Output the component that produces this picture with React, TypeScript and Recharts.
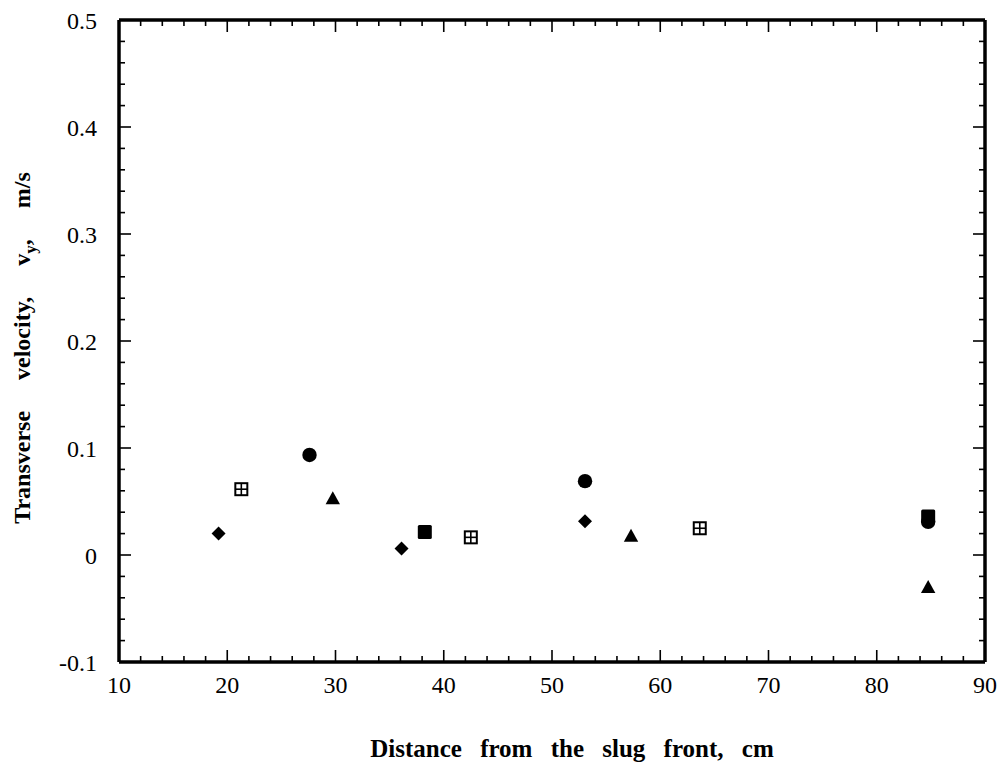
import React from 'react';
import { ScatterChart, Scatter, XAxis, YAxis } from 'recharts';

// ---- data ----
const diamondX = [19.2, 36.1, 53.05];
const diamondY = [0.02, 0.006, 0.0315];
const crossSqX = [21.3, 42.5, 63.65];
const crossSqY = [0.0615, 0.0165, 0.025];
const circleX = [27.6, 53.05, 84.75];
const circleY = [0.0935, 0.069, 0.031];
const triX = [29.75, 57.3, 84.75];
const triY = [0.053, 0.018, -0.03];
const squareX = [38.25, 84.75];
const squareY = [0.0215, 0.036];

const xLabelTicks = [10, 20, 30, 40, 50, 60, 70, 80, 90];
const xAllTicks = [10, 12, 14, 16, 18, 20, 22, 24, 26, 28, 30, 32, 34, 36, 38, 40, 42, 44, 46, 48, 50, 52, 54, 56, 58, 60, 62, 64, 66, 68, 70, 72, 74, 76, 78, 80, 82, 84, 86, 88, 90];
const yLabelTicks = [-0.1, 0, 0.1, 0.2, 0.3, 0.4, 0.5];
const yAllTicks = [-0.1, -0.08, -0.06, -0.04, -0.02, 0, 0.02, 0.04, 0.06, 0.08, 0.1, 0.12, 0.14, 0.16, 0.18, 0.2, 0.22, 0.24, 0.26, 0.28, 0.3, 0.32, 0.34, 0.36, 0.38, 0.4, 0.42, 0.44, 0.46, 0.48, 0.5];

const zip = (xs: number[], ys: number[]) => xs.map((x, i) => ({ x, y: ys[i] }));
const diamondData = zip(diamondX, diamondY);
const crossSqData = zip(crossSqX, crossSqY);
const circleData = zip(circleX, circleY);
const triData = zip(triX, triY);
const squareData = zip(squareX, squareY);

const FONT = '"Liberation Serif", "Times New Roman", serif';
const MAJ = 12;
const MIN = 6;
const TICK_W = 1.6;
const AXIS_W = 3.5;
const TICK_FS = 24;
const X_MARGIN = 14;
const Y_MARGIN = 22;

const isMajor = (v: number, majors: number[]) => majors.some((m) => Math.abs(m - v) < 1e-9);

// bottom axis: inward tick mark + label for majors
const XBottomTick = (props: any) => {
  const { x, y, payload } = props;
  const axisY = y - X_MARGIN;
  const major = isMajor(payload.value, xLabelTicks);
  const len = major ? MAJ : MIN;
  return (
    <g>
      <line x1={x} y1={axisY} x2={x} y2={axisY - len} stroke="#000" strokeWidth={TICK_W} />
      {major && (
        <text x={x} y={y} dy="0.71em" textAnchor="middle" fontFamily={FONT} fontSize={TICK_FS} fill="#000">
          {String(payload.value)}
        </text>
      )}
    </g>
  );
};

// left axis: inward tick mark + label for majors
const YLeftTick = (props: any) => {
  const { x, y, payload } = props;
  const axisX = x + Y_MARGIN;
  const major = isMajor(payload.value, yLabelTicks);
  const len = major ? MAJ : MIN;
  return (
    <g>
      <line x1={axisX} y1={y} x2={axisX + len} y2={y} stroke="#000" strokeWidth={TICK_W} />
      {major && (
        <text x={x} y={y} dy="0.355em" textAnchor="end" fontFamily={FONT} fontSize={TICK_FS} fill="#000">
          {String(payload.value)}
        </text>
      )}
    </g>
  );
};

const XTopTick = (props: any) => {
  const { x, y, payload } = props;
  const len = isMajor(payload.value, xLabelTicks) ? MAJ : MIN;
  return <line x1={x} y1={y} x2={x} y2={y + len} stroke="#000" strokeWidth={TICK_W} />;
};
const YRightTick = (props: any) => {
  const { x, y, payload } = props;
  const len = isMajor(payload.value, yLabelTicks) ? MAJ : MIN;
  return <line x1={x} y1={y} x2={x - len} y2={y} stroke="#000" strokeWidth={TICK_W} />;
};

const Diamond = (p: any) => {
  const { cx, cy } = p;
  const r = 7;
  return <polygon points={`${cx},${cy - r} ${cx + r},${cy} ${cx},${cy + r} ${cx - r},${cy}`} fill="#000" />;
};
const CrossSquare = (p: any) => {
  const { cx, cy } = p;
  const h = 6;
  return (
    <g>
      <rect x={cx - h} y={cy - h} width={2 * h} height={2 * h} fill="#fff" stroke="#000" strokeWidth={2} />
      <line x1={cx} y1={cy - h} x2={cx} y2={cy + h} stroke="#000" strokeWidth={1.6} />
      <line x1={cx - h} y1={cy} x2={cx + h} y2={cy} stroke="#000" strokeWidth={1.6} />
    </g>
  );
};
const Circle = (p: any) => <circle cx={p.cx} cy={p.cy} r={7.2} fill="#000" />;
const Triangle = (p: any) => {
  const { cx, cy } = p;
  return <polygon points={`${cx},${cy - 7} ${cx + 7.2},${cy + 6} ${cx - 7.2},${cy + 6}`} fill="#000" />;
};
const Square = (p: any) => {
  const { cx, cy } = p;
  return <rect x={cx - 7} y={cy - 7} width={14} height={14} rx={1.5} fill="#000" />;
};

const XTitle = (props: any) => {
  const vb = props.viewBox;
  return (
    <text
      x={vb.x + vb.width / 2 + 20}
      y={vb.y + 95}
      textAnchor="middle"
      fontFamily={FONT}
      fontWeight="bold"
      fontSize={25}
      style={{ wordSpacing: '12px' }}
      fill="#000"
    >
      Distance from the slug front, cm
    </text>
  );
};

const YTitle = (props: any) => {
  const vb = props.viewBox;
  const cx = 30;
  const cy = vb.y + vb.height / 2 + 7;
  return (
    <text
      x={cx}
      y={cy}
      transform={`rotate(-90 ${cx} ${cy})`}
      textAnchor="middle"
      fontFamily={FONT}
      fontWeight="bold"
      fontSize={24}
      style={{ wordSpacing: '25px' }}
      fill="#000"
    >
      Transverse velocity, v<tspan dy={6} fontSize={17}>y</tspan>
      <tspan dy={-6}>, m/s</tspan>
    </text>
  );
};

const TINY = 0.01;

export default function App() {
  return (
    <div style={{ position: 'absolute', left: 0, top: 0, background: '#fff' }}>
      <ScatterChart width={1004} height={764} margin={{ top: 20, right: 19, bottom: 22, left: 0 }}>
        <XAxis
          xAxisId="main"
          dataKey="x"
          type="number"
          domain={[10, 90]}
          ticks={xAllTicks}
          interval={0}
          tickLine={false}
          tickSize={0}
          tickMargin={X_MARGIN}
          axisLine={{ stroke: '#000', strokeWidth: AXIS_W }}
          tick={XBottomTick}
          height={80}
          label={<XTitle />}
        />
        <YAxis
          yAxisId="main"
          dataKey="y"
          type="number"
          domain={[-0.1, 0.5]}
          ticks={yAllTicks}
          interval={0}
          tickLine={false}
          tickSize={0}
          tickMargin={Y_MARGIN}
          axisLine={{ stroke: '#000', strokeWidth: AXIS_W }}
          tick={YLeftTick}
          width={119}
          label={<YTitle />}
        />
        <XAxis xAxisId="tp" dataKey="x" orientation="top" type="number" domain={[10, 90]} ticks={xAllTicks} interval={0} mirror height={TINY}
          tickLine={false} tickSize={0} tickMargin={0} axisLine={{ stroke: '#000', strokeWidth: AXIS_W }} tick={XTopTick} />
        <YAxis yAxisId="rt" dataKey="y" orientation="right" type="number" domain={[-0.1, 0.5]} ticks={yAllTicks} interval={0} mirror width={TINY}
          tickLine={false} tickSize={0} tickMargin={0} axisLine={{ stroke: '#000', strokeWidth: AXIS_W }} tick={YRightTick} />

        <Scatter xAxisId="main" yAxisId="main" data={diamondData} shape={Diamond} isAnimationActive={false} />
        <Scatter xAxisId="main" yAxisId="main" data={crossSqData} shape={CrossSquare} isAnimationActive={false} />
        <Scatter xAxisId="main" yAxisId="main" data={squareData} shape={Square} isAnimationActive={false} />
        <Scatter xAxisId="tp" yAxisId="rt" data={circleData} shape={Circle} isAnimationActive={false} />
        <Scatter xAxisId="tp" yAxisId="rt" data={triData} shape={Triangle} isAnimationActive={false} />
      </ScatterChart>
    </div>
  );
}
